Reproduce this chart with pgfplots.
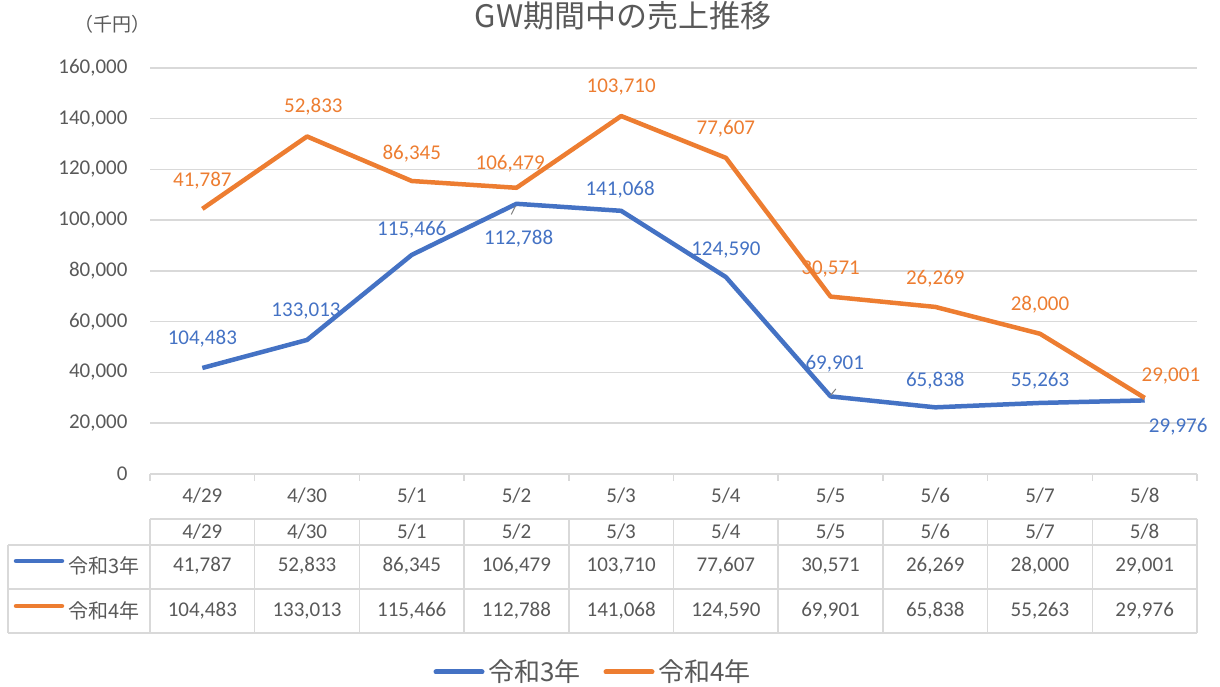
\documentclass[border=0pt]{standalone}
\usepackage{pgfplots}
\pgfplotsset{compat=1.18}
\usepackage{fontspec}
\setmainfont{Carlito}
\newfontfamily\jp{Noto Sans CJK JP}
\definecolor{blu}{HTML}{4472C4}
\definecolor{org}{HTML}{ED7D31}
\definecolor{txt}{HTML}{595959}
\definecolor{grd}{HTML}{D9D9D9}
\newcommand\fs[1]{\fontsize{#1pt}{#1pt}\selectfont}
\tikzset{lab/.style={font=\fs{21}}}
\begin{document}
\begin{tikzpicture}
\useasboundingbox (0,0) rectangle (1220pt,687pt);
\begin{axis}[
  at={(150pt,213pt)}, anchor=south west,
  scale only axis, width=1047pt, height=406pt,
  xmin=-0.5, xmax=9.5, ymin=0, ymax=160000,
  ytick={0,20000,40000,60000,80000,100000,120000,140000,160000},
  yticklabels={0,{20,000},{40,000},{60,000},{80,000},{100,000},{120,000},{140,000},{160,000}},
  xtick={0,...,9},
  xticklabels={4/29,4/30,5/1,5/2,5/3,5/4,5/5,5/6,5/7,5/8},
  minor xtick={-0.5,0.5,...,9.5},
  major tick length=0pt, minor tick length=7pt, tick align=outside,
  ytick style={draw=none},
  xtick style={draw=grd, line width=1.5pt},
  axis x line*=bottom, axis y line*=left,
  y axis line style={draw=none},
  x axis line style={draw=grd, line width=1.5pt, -},
  ymajorgrids, grid style={draw=grd, line width=1.5pt},
  scaled y ticks=false,
  yticklabel style={font=\fs{21}, text=txt, xshift=-19pt},
  xticklabel style={font=\fs{21}, text=txt, yshift=-10pt},
  clip=false,
]
\addplot[blu, line width=4.5pt, line join=round, mark=none] coordinates {
 (0,41787)(1,52833)(2,86345)(3,106479)(4,103710)(5,77607)(6,30571)(7,26269)(8,28000)(9,29001)};
\addplot[org, line width=4.5pt, line join=round, mark=none] coordinates {
 (0,104483)(1,133013)(2,115466)(3,112788)(4,141068)(5,124590)(6,69901)(7,65838)(8,55263)(9,29976)};
% orange data labels
\node[lab,org] at (axis cs:0,115468) {41,787};
\node[lab,org] at (axis cs:1.06,144630) {52,833};
\node[lab,org] at (axis cs:2.0,126110) {86,345};
\node[lab,org] at (axis cs:2.94,122170) {106,479};
\node[lab,org] at (axis cs:4.0,152510) {103,710};
\node[lab,org] at (axis cs:5.0,135960) {77,607};
\node[lab,org] at (axis cs:6.0,80790) {30,571};
\node[lab,org] at (axis cs:7.0,76850) {26,269};
\node[lab,org] at (axis cs:8.0,66600) {28,000};
\node[lab,org] at (axis cs:9.25,38620) {29,001};
% blue data labels
\node[lab,blu] at (axis cs:0,53200) {104,483};
\node[lab,blu] at (axis cs:0.99,64240) {133,013};
\node[lab,blu] at (axis cs:2.0,96160) {115,466};
\node[lab,blu] at (axis cs:3.02,92610) {112,788};
\node[lab,blu] at (axis cs:3.99,111920) {141,068};
\node[lab,blu] at (axis cs:5.0,88280) {124,590};
\node[lab,blu] at (axis cs:6.04,43350) {69,901};
\node[lab,blu] at (axis cs:7.0,36650) {65,838};
\node[lab,blu] at (axis cs:8.0,36650) {55,263};
\node[lab,blu] at (axis cs:9.32,18520) {29,976};
\draw[gray, line width=1pt] (axis cs:2.99,105500) -- (axis cs:2.95,102300);
\draw[gray, line width=1pt] (axis cs:6.05,33500) -- (axis cs:6.0,31000);
\end{axis}
\begin{scope}[shift={(0pt,687pt)}, x=1pt, y=-1pt]
  % title and unit
  \node[anchor=base, text=txt, font=\jp\fs{31}] at (623,28) {GW期間中の売上推移};
  \node[text=txt, font=\jp\fs{19}] at (112,24) {（千円）};
  % table grid
  \draw[grd, line width=1.5pt] (150,519) -- (1197,519);
  \foreach \y in {545,589,633} \draw[grd, line width=1.5pt] (8,\y) -- (1197,\y);
  \foreach \i in {0,...,10} \draw[grd, line width=1.5pt] ({150+\i*104.7},519) -- ({150+\i*104.7},633);
  \draw[grd, line width=1.5pt] (8,545) -- (8,633);
  % header row
  \foreach \t [count=\i from 0] in {4/29,4/30,5/1,5/2,5/3,5/4,5/5,5/6,5/7,5/8}
    \node[text=txt, font=\fs{21}] at ({202.35+\i*104.7},532) {\t};
  \foreach \t [count=\i from 0] in {{41,787},{52,833},{86,345},{106,479},{103,710},{77,607},{30,571},{26,269},{28,000},{29,001}}
    \node[text=txt, font=\fs{21}] at ({202.35+\i*104.7},566) {\t};
  \foreach \t [count=\i from 0] in {{104,483},{133,013},{115,466},{112,788},{141,068},{124,590},{69,901},{65,838},{55,263},{29,976}}
    \node[text=txt, font=\fs{21}] at ({202.35+\i*104.7},611) {\t};
  % row keys
  \draw[blu, line width=4.5pt, line cap=round] (16,561) -- (62,561);
  \node[anchor=west, inner sep=0pt, text=txt, font=\jp\fs{20}] at (68,566) {令和3年};
  \draw[org, line width=4.5pt, line cap=round] (16,606) -- (62,606);
  \node[anchor=west, inner sep=0pt, text=txt, font=\jp\fs{20}] at (68,611) {令和4年};
  % legend
  \draw[blu, line width=5pt, line cap=round] (436,672) -- (482,672);
  \node[anchor=west, inner sep=0pt, text=txt, font=\jp\fs{26}] at (488,672) {令和3年};
  \draw[org, line width=5pt, line cap=round] (606,672) -- (652,672);
  \node[anchor=west, inner sep=0pt, text=txt, font=\jp\fs{26}] at (658,672) {令和4年};
\end{scope}
\end{tikzpicture}
\end{document}
